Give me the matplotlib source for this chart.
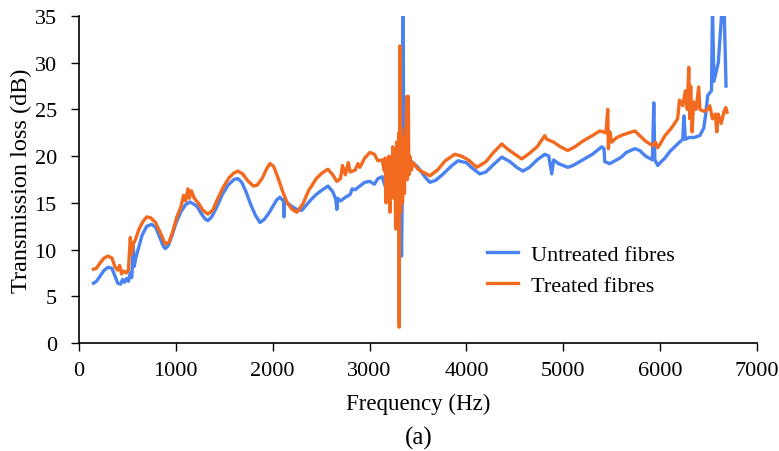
import matplotlib
matplotlib.use("Agg")
import matplotlib.pyplot as plt

# untreated fibres (blue)
f_untreated = [150, 180, 220, 260, 300, 340, 370, 400, 430, 450, 470, 490, 510, 530, 545, 560, 570, 585,
               610, 650, 700, 750, 790, 830, 870, 890, 920, 960, 1000, 1050, 1100, 1145, 1180, 1220, 1260,
               1300, 1330, 1370, 1420, 1480, 1540, 1600, 1640, 1680, 1720, 1770, 1820, 1868, 1910, 1960,
               2000, 2040, 2074, 2100, 2112, 2115, 2118, 2150, 2200, 2250, 2300, 2350, 2400, 2450, 2500,
               2570, 2620, 2650, 2662, 2670, 2700, 2750, 2800, 2820, 2850, 2900, 2950, 3000, 3050, 3086,
               3130, 3160, 3180, 3200, 3220, 3240, 3260, 3280, 3300, 3320, 3330, 3340, 3347, 3352, 3370,
               3390, 3410, 3437, 3500, 3570, 3622, 3680, 3750, 3850, 3911, 4000, 4050, 4138, 4200, 4300,
               4365, 4450, 4520, 4582, 4650, 4730, 4809, 4850, 4881, 4900, 4950, 5046, 5100, 5200, 5300,
               5397, 5420, 5428, 5480, 5550, 5600, 5650, 5738, 5789, 5850, 5920, 5934, 5945, 5975, 6000,
               6050, 6100, 6150, 6200, 6233, 6245, 6260, 6300, 6350, 6409, 6450, 6470, 6491, 6530, 6540,
               6555, 6600, 6640, 6660, 6680]
tl_untreated = [6.4, 6.6, 7.2, 7.8, 8.1, 8.0, 7.2, 6.4, 6.3, 6.8, 6.5, 6.9, 6.6, 7.5, 7.0, 10.4, 8.2, 9.0,
                10.0, 11.5, 12.5, 12.7, 12.4, 11.4, 10.4, 10.1, 10.4, 11.5, 12.8, 14.0, 14.8, 15.1, 14.9, 14.6, 13.9,
                13.3, 13.1, 13.5, 14.5, 15.9, 16.9, 17.5, 17.6, 17.2, 16.3, 14.9, 13.7, 12.9, 13.2, 13.9,
                14.6, 15.3, 15.6, 15.3, 15.2, 13.5, 15.4, 15.0, 14.6, 14.3, 14.2, 14.8, 15.4, 15.9, 16.3,
                16.8, 16.2, 15.4, 14.3, 15.5, 15.2, 15.6, 15.9, 16.5, 16.4, 16.8, 17.2, 17.3, 17.0, 17.6,
                17.8, 16.8, 18.5, 16.5, 18.0, 15.8, 19.0, 16.0, 19.5, 15.0, 9.3, 18.0, 36.0, 19.5, 17.5,
                20.0, 19.0, 19.4, 18.8, 17.8, 17.2, 17.4, 18.0, 19.0, 19.5, 19.3, 18.8, 18.1, 18.3, 19.3,
                19.9, 19.4, 18.8, 18.4, 18.8, 19.6, 20.2, 20.0, 18.1, 19.6, 19.2, 18.8, 19.0, 19.6, 20.2,
                21.0, 20.8, 19.4, 19.2, 19.6, 19.9, 20.4, 20.8, 20.6, 20.0, 19.6, 25.7, 19.6, 19.0, 19.3,
                19.8, 20.5, 21.0, 21.5, 21.8, 24.3, 21.8, 22.0, 22.0, 22.2, 23.0, 24.5, 26.5, 27.0, 36.0,
                28.0, 30.0, 36.0, 36.0, 27.5]

# treated fibres (orange)
f_treated = [150, 180, 220, 260, 300, 340, 370, 400, 420, 440, 460, 490, 510, 530, 540, 560, 580, 620, 660,
             700, 740, 790, 840, 890, 930, 970, 1010, 1050, 1080, 1100, 1125, 1140, 1160, 1190, 1230, 1280,
             1331, 1380, 1430, 1490, 1550, 1600, 1640, 1690, 1740, 1800, 1840, 1890, 1940, 1971, 2010, 2050,
             2100, 2150, 2200, 2250, 2312, 2370, 2450, 2510, 2570, 2620, 2662, 2700, 2720, 2750, 2780, 2800,
             2850, 2880, 2900, 2950, 3003, 3050, 3086, 3130, 3150, 3160, 3170, 3180, 3190, 3200, 3210, 3220,
             3230, 3240, 3250, 3260, 3270, 3280, 3290, 3300, 3306, 3313, 3320, 3330, 3340, 3350, 3360, 3370,
             3385, 3390, 3400, 3405, 3415, 3430, 3450, 3500, 3550, 3622, 3700, 3780, 3880, 3950, 4020, 4107,
             4200, 4280, 4365, 4420, 4500, 4572, 4650, 4730, 4809, 4830, 4900, 4970, 5046, 5120, 5200, 5300,
             5377, 5440, 5459, 5465, 5480, 5500, 5552, 5620, 5680, 5738, 5789, 5850, 5925, 5950, 5975, 6000,
             6050, 6100, 6130, 6180, 6200, 6233, 6260, 6280, 6295, 6305, 6315, 6330, 6345, 6370, 6398, 6410,
             6450, 6490, 6512, 6540, 6570, 6584, 6600, 6630, 6660, 6677, 6690]
tl_treated = [7.9, 8.0, 8.6, 9.1, 9.3, 9.1, 8.2, 7.8, 8.3, 7.4, 7.7, 7.5, 7.8, 11.3, 9.5, 10.6, 11.0, 12.2, 13.0,
              13.5, 13.4, 12.9, 11.8, 10.6, 10.8, 12.0, 13.5, 14.5, 15.8, 15.2, 16.5, 15.5, 16.3, 15.5, 15.0, 14.2,
              13.8, 14.2, 15.4, 16.7, 17.7, 18.2, 18.4, 18.1, 17.4, 16.8, 16.9, 17.6, 18.7, 19.2, 18.9, 17.8,
              16.3, 15.0, 14.3, 14.0, 14.9, 16.3, 17.6, 18.2, 18.6, 18.0, 17.3, 17.6, 19.0, 18.0, 19.3, 18.3,
              18.5, 19.2, 18.8, 19.8, 20.4, 20.2, 19.5, 19.6, 18.5, 19.8, 15.0, 19.0, 17.5, 20.0, 14.0, 19.5,
              16.5, 21.0, 15.5, 20.5, 12.2, 21.5, 13.6, 22.5, 1.7, 31.8, 14.0, 23.0, 15.0, 22.0, 16.0, 21.0,
              26.4, 17.5, 26.4, 18.0, 20.0, 18.5, 19.3, 18.6, 18.3, 17.9, 18.5, 19.5, 20.2, 20.0, 19.6, 18.8,
              19.4, 20.4, 21.3, 20.8, 20.2, 19.7, 20.3, 21.0, 22.2, 21.8, 21.5, 21.0, 20.6, 21.0, 21.6, 22.2,
              22.7, 22.5, 25.0, 20.8, 22.6, 21.5, 22.0, 22.3, 22.5, 22.7, 22.2, 21.6, 21.1, 21.5, 20.9, 21.3,
              22.2, 22.8, 23.2, 24.0, 26.0, 25.4, 27.0, 25.0, 29.5, 24.0, 27.5, 22.6, 25.8, 25.0, 27.4, 25.0,
              24.8, 25.0, 25.4, 24.0, 24.5, 22.6, 24.5, 23.5, 24.8, 25.2, 24.7]

plt.rcParams['font.family'] = ['Liberation Serif', 'DejaVu Serif']

fig = plt.figure(figsize=(7.79, 4.52), dpi=100)
ax = fig.add_axes([0.1014, 0.2389, 0.8704, 0.7235])

ax.plot(f_untreated, tl_untreated, color='#4A82F0', lw=2.4, label='Untreated fibres')
ax.plot(f_treated, tl_treated, color='#F26A1F', lw=2.4, label='Treated fibres')

ax.set_xlim(0, 7000)
ax.set_ylim(0, 35)
ax.set_xticks(range(0, 7001, 1000))
ax.set_yticks(range(0, 36, 5))
ax.tick_params(labelsize=16, length=6, width=1, direction='out')
ax.tick_params(axis='x', pad=7)
ax.tick_params(axis='y', pad=10)
for s in ['top', 'right']:
    ax.spines[s].set_visible(False)
for s in ['left', 'bottom']:
    ax.spines[s].set_linewidth(1.2)

fig.text(0.028, 0.60, 'Transmission loss (dB)', fontsize=17.5, rotation=90, ha='center', va='center')
fig.text(0.537, 0.106, 'Frequency (Hz)', fontsize=16.5, ha='center', va='center')
fig.text(0.537, 0.029, '(a)', fontsize=18, ha='center', va='center')

ax.legend(loc='center left', bbox_to_anchor=(0.602, 0.223), frameon=False, fontsize=16,
          handlelength=1.4, handletextpad=0.58, labelspacing=0.44, borderaxespad=0, borderpad=0)

fig.savefig('out.png', dpi=100)
